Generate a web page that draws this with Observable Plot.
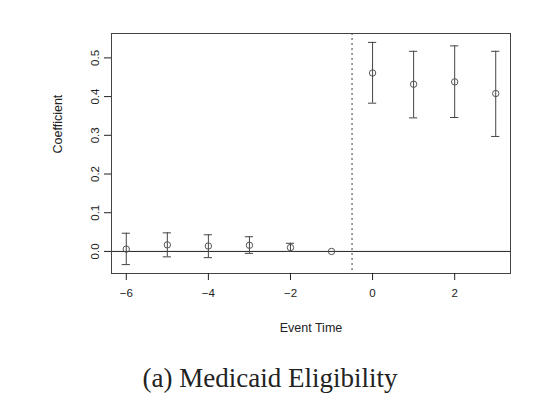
<!DOCTYPE html>
<html>
<head>
<meta charset="utf-8">
<script src="https://cdn.jsdelivr.net/npm/d3@7"></script>
<script src="https://cdn.jsdelivr.net/npm/@observablehq/plot@0.6"></script>
<style>
  html, body { margin: 0; padding: 0; background: #fff; }
  #chart svg { display: block; }
  #caption {
    width: 540px; text-align: center;
    font-family: "Liberation Serif", "DejaVu Serif", serif;
    font-size: 27px; color: #222; line-height: 30px;
    margin-top: 13px;
  }
</style>
</head>
<body>
<div id="chart"></div>
<div id="caption">(a) Medicaid Eligibility</div>
<script>
const eventTime = [-6, -5, -4, -3, -2, -1, 0, 1, 2, 3];
const coef      = [0.006, 0.017, 0.014, 0.016, 0.010, 0.000, 0.461, 0.432, 0.438, 0.408];
const lower     = [-0.034, -0.014, -0.016, -0.005, 0.000, null, 0.383, 0.345, 0.346, 0.297];
const upper     = [0.047, 0.048, 0.043, 0.038, 0.021, null, 0.540, 0.517, 0.531, 0.517];
const xTicks = [-6, -4, -2, 0, 2];
const yTicks = [0, 0.1, 0.2, 0.3, 0.4, 0.5];
const xLabel = "Event Time";
const yLabel = "Coefficient";
const treatLine = -0.5;
const capHalf = 0.1;

const rows = eventTime.map((t, i) => ({t, coef: coef[i], lo: lower[i], hi: upper[i]}));
const bars = rows.filter(d => d.lo != null);

const chart = Plot.plot({
  width: 546,
  height: 350,
  marginLeft: 111,
  marginRight: 36,
  marginTop: 33,
  marginBottom: 77,
  style: {fontFamily: "Liberation Sans, Arial, sans-serif", fontSize: "11.5px", color: "#222"},
  x: {domain: [-6.36, 3.36]},
  y: {domain: [-0.057, 0.563]},
  marks: [
    Plot.ruleY([0], {stroke: "#222", strokeWidth: 1}),
    Plot.ruleX([treatLine], {stroke: "#888", strokeWidth: 1.6, strokeDasharray: "2,3"}),
    Plot.ruleX(bars, {x: "t", y1: "lo", y2: "hi", stroke: "#444", strokeWidth: 1}),
    Plot.ruleY(bars, {y: "hi", x1: d => d.t - capHalf, x2: d => d.t + capHalf, stroke: "#444", strokeWidth: 1}),
    Plot.ruleY(bars, {y: "lo", x1: d => d.t - capHalf, x2: d => d.t + capHalf, stroke: "#444", strokeWidth: 1}),
    Plot.dot(rows, {x: "t", y: "coef", r: 3.2, stroke: "#555", fill: "none", strokeWidth: 1}),
    Plot.frame({stroke: "#444", strokeWidth: 1}),
    Plot.axisX({ticks: xTicks, tickSize: 7, tickPadding: 8, label: null}),
    Plot.axisY({ticks: yTicks, tickSize: 7, tickPadding: 6, tickFormat: ".1f", tickRotate: -90, label: null}),
    Plot.text([xLabel], {text: d => d, frameAnchor: "bottom", dy: 58, fontSize: 12.5, fill: "#222"}),
    Plot.text([yLabel], {text: d => d, frameAnchor: "left", dx: -54, rotate: -90, fontSize: 12.5, fill: "#222"})
  ]
});
document.getElementById("chart").appendChild(chart);
</script>
</body>
</html>
